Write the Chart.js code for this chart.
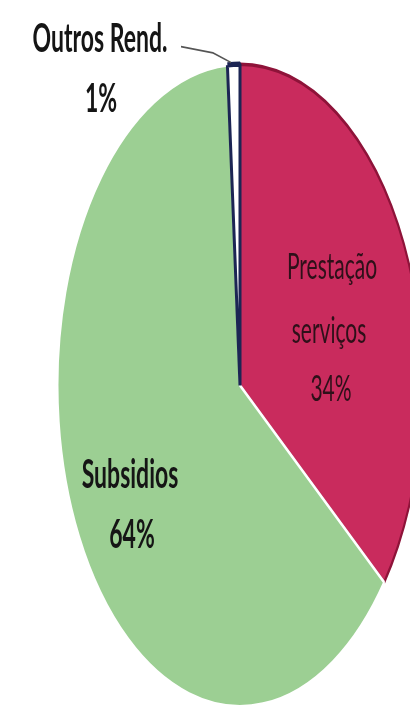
<!DOCTYPE html>
<html>
<head>
<meta charset="utf-8">
<script src="https://cdn.jsdelivr.net/npm/chart.js@4.4.1/dist/chart.umd.min.js"></script>
<style>
  html,body{margin:0;padding:0;background:#fff;}
  #wrap{width:410px;height:712px;overflow:hidden;position:relative;}
  #pie{display:block;}
</style>
</head>
<body>
<div id="wrap"><canvas id="pie" width="430" height="712"></canvas></div>
<script>
// data (slice angles) + the printed labels
const categories = ['Prestação serviços', 'Subsidios', 'Outros Rend.'];
const shares     = [35.5, 63.4, 1.1];
const pctLabels  = ['34%', '64%', '1%'];
const colors     = ['#c92b5d', '#9ccf93', '#ffffff'];
const edges      = ['#8e1339', '#ffffff', '#1c2554'];

// the source picture is a pie squeezed into a tall frame: stretch vertically
const K = 1.76;

const stretch = {
  id: 'stretch',
  beforeDraw(chart) { chart.ctx.save(); chart.ctx.scale(1, K); },
  afterDraw(chart) {
    const c = chart.ctx;
    c.fillStyle = '#151515';
    c.textAlign = 'center'; c.textBaseline = 'middle';
    c.font = 'bold 23px Lato, "Open Sans", sans-serif';
    // Outros Rend. with leader line
    c.fillText('Outros Rend.', 100, 22);
    c.fillText(pctLabels[2], 101, 56);
    c.strokeStyle = '#555'; c.lineWidth = 1;
    c.beginPath(); c.moveTo(181, 26.5); c.lineTo(213, 30); c.lineTo(231, 35.5); c.stroke();
    // Subsidios
    c.fillText('Subsidios', 130, 270);
    c.fillText(pctLabels[1], 132, 304);
    // Prestação serviços
    c.fillStyle = '#2e1019';
    c.font = '21px Lato, "Open Sans", sans-serif';
    c.fillText('Prestação', 332, 152);
    c.fillText('serviços', 329, 188);
    c.fillText(pctLabels[0], 331, 221);
    c.restore();
  }
};

new Chart(document.getElementById('pie'), {
  type: 'pie',
  data: { labels: categories, datasets: [{
    data: shares, backgroundColor: colors, borderColor: edges, borderWidth: [2, 2, 3]
  }]},
  options: {
    responsive: false, animation: false,
    layout: { padding: { left: 56, right: 6, top: 35, bottom: 309 } },
    plugins: { legend: { display: false }, tooltip: { enabled: false } }
  },
  plugins: [stretch]
});
</script>
</body>
</html>
